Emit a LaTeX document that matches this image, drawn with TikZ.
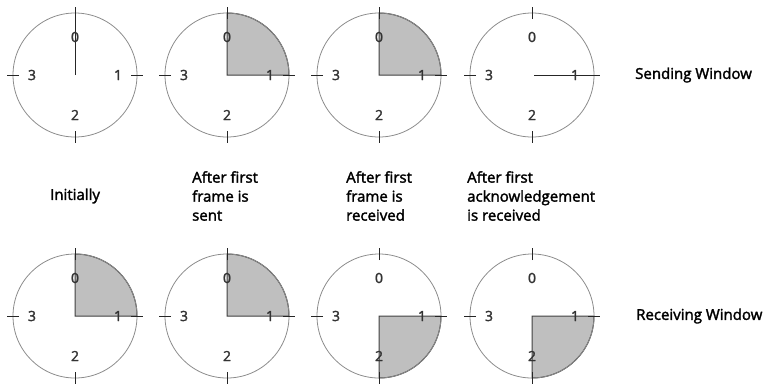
\documentclass[tikz,border=0pt]{standalone}
\usepackage{fontspec}
\setmainfont{Open Sans}
\newfontfamily\capfont{Open Sans}[FakeBold=2]
\tikzset{
  rim/.style={draw=black!45, line width=0.8pt},
  clocktick/.style={draw=black!85, line width=1pt},
  hand/.style={draw=black!85, line width=0.9pt},
  sector/.style={fill=black!25, draw=black!75, line width=1pt},
  num/.style={font=\capfont\fontsize{14}{14}\selectfont, inner sep=0pt, text=black!80},
  captext/.style={font=\capfont\fontsize{15}{19}\selectfont, inner sep=0pt, align=left, anchor=west},
}
% #1 name, #2 cx, #3 cy
\newcommand\clockface[3]{%
  \coordinate (#1) at (#2,#3);
  \draw[rim] (#1) circle (62pt);
  \draw[clocktick] (#2,#3-56) -- (#2,#3-68);
  \draw[clocktick] (#2,#3+56) -- (#2,#3+68);
  \draw[clocktick] (#2-56,#3) -- (#2-68,#3);
  \draw[clocktick] (#2+56,#3) -- (#2+68,#3);
}
\newcommand\clocknums[3]{%
  \node[num] (#1-n0) at (#2,#3-38) {0};
  \node[num] (#1-n1) at (#2+43,#3) {1};
  \node[num] (#1-n2) at (#2,#3+40) {2};
  \node[num] (#1-n3) at (#2-43,#3) {3};
}
\newcommand\sectorTR[2]{%
  \draw[sector] (#1,#2) -- (#1,#2-62) arc[start angle=90, end angle=0, radius=62pt] -- cycle;
}
\newcommand\sectorBR[2]{%
  \draw[sector] (#1,#2) -- (#1+62,#2) arc[start angle=0, end angle=-90, radius=62pt] -- cycle;
}
\begin{document}
\begin{tikzpicture}[x=1pt, y=-1pt]
  \useasboundingbox (0,0) rectangle (770,384);
  % top row: sending window
  \clockface{s1}{75}{75}
  \draw[hand] (75,75) -- (75,8);
  \clocknums{s1}{75}{75}
  \sectorTR{227}{75}
  \clockface{s2}{227}{75}
  \clocknums{s2}{227}{75}
  \sectorTR{379}{75}
  \clockface{s3}{379}{75}
  \clocknums{s3}{379}{75}
  \clockface{s4}{532}{75}
  \draw[hand] (534,75) -- (596,75);
  \clocknums{s4}{532}{75}
  % bottom row: receiving window
  \sectorTR{75}{316}
  \clockface{r1}{75}{316}
  \clocknums{r1}{75}{316}
  \sectorTR{227}{316}
  \clockface{r2}{227}{316}
  \clocknums{r2}{227}{316}
  \sectorBR{379}{316}
  \clockface{r3}{379}{316}
  \clocknums{r3}{379}{316}
  \sectorBR{532}{316}
  \clockface{r4}{532}{316}
  \clocknums{r4}{532}{316}
  % captions
  \node[captext] (c1) at (50,196) {Initially};
  \node[captext] (c2) at (192,196) {After first\\frame is\\sent};
  \node[captext] (c3) at (346,196) {After first\\frame is\\received};
  \node[captext] (c4) at (467,196) {After first\\acknowledgement\\is received};
  \node[captext] (sw) at (635,75) {Sending Window};
  \node[captext] (rw) at (636,316) {Receiving Window};
\end{tikzpicture}
\end{document}
